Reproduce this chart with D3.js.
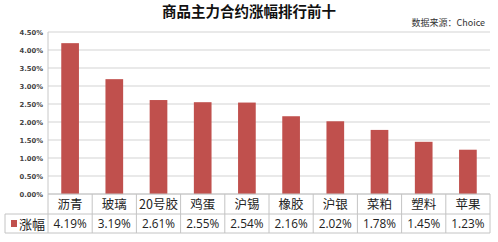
<!DOCTYPE html>
<html><head><meta charset="utf-8">
<script src="https://cdn.jsdelivr.net/npm/d3@7"></script>
<style>body{margin:0;background:#fff}svg{display:block}</style>
</head><body>
<script>
const categories = ["沥青","玻璃","20号胶","鸡蛋","沪锡","橡胶","沪银","菜粕","塑料","苹果"];
const values = [4.19,3.19,2.61,2.55,2.54,2.16,2.02,1.78,1.45,1.23];
const yTicks = [0,0.5,1,1.5,2,2.5,3,3.5,4,4.5];
const seriesName = "涨幅";
const title = "商品主力合约涨幅排行前十";
const source = "数据来源：Choice";

(function(){
const W=498,H=242;
const svg=d3.select("body").append("svg").attr("width",W).attr("height",H);
const font="'Noto Sans CJK SC','Noto Sans',sans-serif";
const pL=48,pR=490,pT=32,pB=194;
const x=d3.scaleBand().domain(categories).range([pL,pR]).paddingInner(0.6).paddingOuter(0.3);
const xc=d3.scaleBand().domain(categories).range([pL,pR]);
const y=d3.scaleLinear().domain([0,4.5]).range([pB,pT]);

svg.append("text").attr("x",249).attr("y",17).attr("text-anchor","middle")
  .attr("font-family",font).attr("font-weight","bold").attr("font-size",14.5).attr("fill","#111").text(title);
svg.append("text").attr("x",485).attr("y",26).attr("text-anchor","end")
  .attr("font-family",font).attr("font-size",9).attr("fill","#333").text(source);

svg.append("g").selectAll("line").data(yTicks).join("line")
  .attr("x1",pL).attr("x2",pR).attr("y1",d=>y(d)).attr("y2",d=>y(d))
  .attr("stroke","#d4d4d4").attr("stroke-width",1.2);
svg.append("line").attr("x1",pL).attr("x2",pL).attr("y1",pT).attr("y2",pB).attr("stroke","#c8c8c8");

const yAxis=d3.axisLeft(y).tickValues(yTicks).tickFormat(d=>d.toFixed(2)+"%").tickSize(0).tickPadding(5);
const ga=svg.append("g").attr("transform",`translate(${pL},0)`).call(yAxis);
ga.select(".domain").remove();
ga.selectAll("text").attr("font-family","'DejaVu Sans',sans-serif").attr("font-size",6.8).attr("font-weight","bold").attr("fill","#444");

svg.append("g").selectAll("rect").data(values).join("rect")
  .attr("x",(d,i)=>x(categories[i])).attr("width",x.bandwidth())
  .attr("y",d=>y(d)).attr("height",d=>y(0)-y(d)).attr("fill","#c0504d");

const r1=194,r2=214,r3=233,legL=5;
const lc="#c4c4c4";
const t=svg.append("g").attr("stroke",lc).attr("stroke-width",1);
t.append("line").attr("x1",pL).attr("x2",pR).attr("y1",r1).attr("y2",r1);
t.append("line").attr("x1",legL).attr("x2",pR).attr("y1",r2).attr("y2",r2);
t.append("line").attr("x1",legL).attr("x2",pR).attr("y1",r3).attr("y2",r3);
t.append("line").attr("x1",legL).attr("x2",legL).attr("y1",r2).attr("y2",r3);
t.selectAll(".v").data(categories.concat(["_end"])).join("line")
  .attr("x1",(d,i)=>pL+i*xc.step()).attr("x2",(d,i)=>pL+i*xc.step()).attr("y1",r1).attr("y2",r3);

svg.append("g").selectAll("text").data(categories).join("text")
  .attr("x",d=>xc(d)+xc.bandwidth()/2).attr("y",209).attr("text-anchor","middle")
  .attr("font-family",font).attr("font-size",12.5).attr("fill","#222").text(d=>d);
svg.append("g").selectAll("text").data(values).join("text")
  .attr("x",(d,i)=>xc(categories[i])+xc.bandwidth()/2).attr("y",228).attr("text-anchor","middle")
  .attr("font-family","'Open Sans',sans-serif").attr("font-size",11.8).attr("fill","#222").text(d=>d.toFixed(2)+"%");

svg.append("rect").attr("x",11).attr("y",220).attr("width",6).attr("height",7).attr("fill","#c0504d");
svg.append("text").attr("x",19).attr("y",228.5).attr("font-family",font).attr("font-size",13).attr("fill","#222").text(seriesName);
})();
</script>
</body></html>
